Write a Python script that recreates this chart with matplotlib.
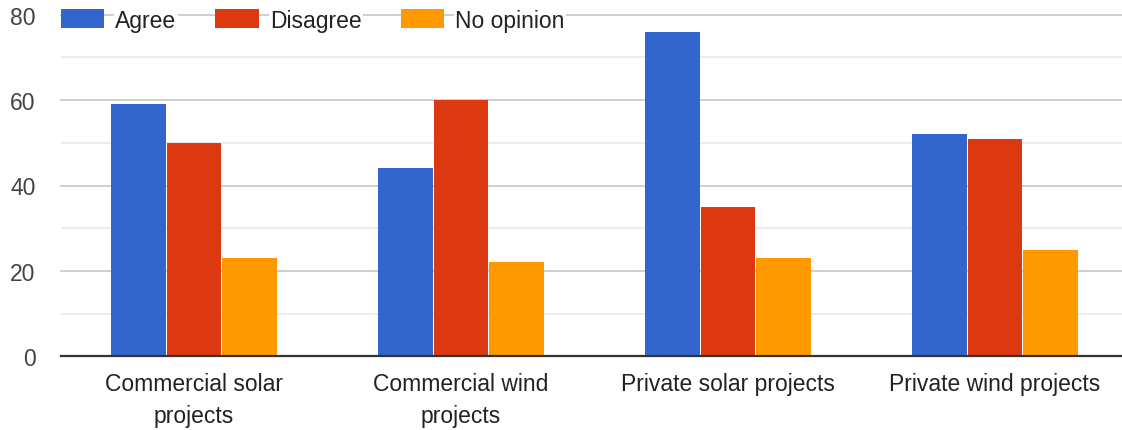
import numpy as np
import matplotlib
matplotlib.use('Agg')
import matplotlib.pyplot as plt

# data
categories = ['Commercial solar\nprojects', 'Commercial wind\nprojects',
              'Private solar projects', 'Private wind projects']
series = ['Agree', 'Disagree', 'No opinion']
agree = [59, 44, 76, 52]
disagree = [50, 60, 35, 51]
no_opinion = [23, 22, 23, 25]
colors = ['#3366CC', '#DC3912', '#FF9900']

plt.rcParams['font.family'] = ['Liberation Sans', 'DejaVu Sans']

W, H = 1122, 431
fig = plt.figure(figsize=(W / 100, H / 100), dpi=100)
# plot area: zero line at y=357.3 px, 80 line at y=15.7 px, groups 267 px apart
ax = fig.add_axes([60.5 / W, (H - 357.3) / H, 1068 / W, (357.3 - 15.7) / H])

x = np.arange(len(categories))
pitch = 0.208
width = 0.204
for i, (vals, name) in enumerate(zip([agree, disagree, no_opinion], series)):
    ax.bar(x + (i - 1) * pitch, vals, width, color=colors[i], label=name, zorder=3)

ax.set_xlim(-0.5, 3.5)
ax.set_ylim(0, 80)
ax.set_yticks([0, 20, 40, 60, 80])
ax.set_yticks([10, 30, 50, 70], minor=True)
ax.grid(axis='y', which='major', color='#cccccc', lw=1.3, zorder=0)
ax.grid(axis='y', which='minor', color='#ebebeb', lw=1.3, zorder=0)
for ln in ax.get_ygridlines():
    ln.set_clip_on(False)
ax.set_axisbelow(True)
ax.axhline(0, color='#333333', lw=1.6, zorder=4, clip_on=False)

for s in ax.spines.values():
    s.set_visible(False)
ax.tick_params(axis='both', which='both', length=0)
ax.tick_params(axis='y', labelsize=16.5, labelcolor='#444444', pad=18)
ax.set_xticks(x)
ax.set_xticklabels(categories, fontsize=16.5, color='#222222', linespacing=1.5)
ax.tick_params(axis='x', pad=11.5)

leg = ax.legend(loc='center left', bbox_to_anchor=(0.0, 1 - 5.5 / 341.6), ncol=3,
                frameon=False, fontsize=16.5, borderpad=0, borderaxespad=0,
                handlelength=1.91, handleheight=0.91, handletextpad=0.48,
                columnspacing=1.7)
for t in leg.get_texts():
    t.set_color('#222222')
    t.set_bbox(dict(facecolor='white', edgecolor='none', pad=1))

fig.savefig('out.png', dpi=100, facecolor='white')
